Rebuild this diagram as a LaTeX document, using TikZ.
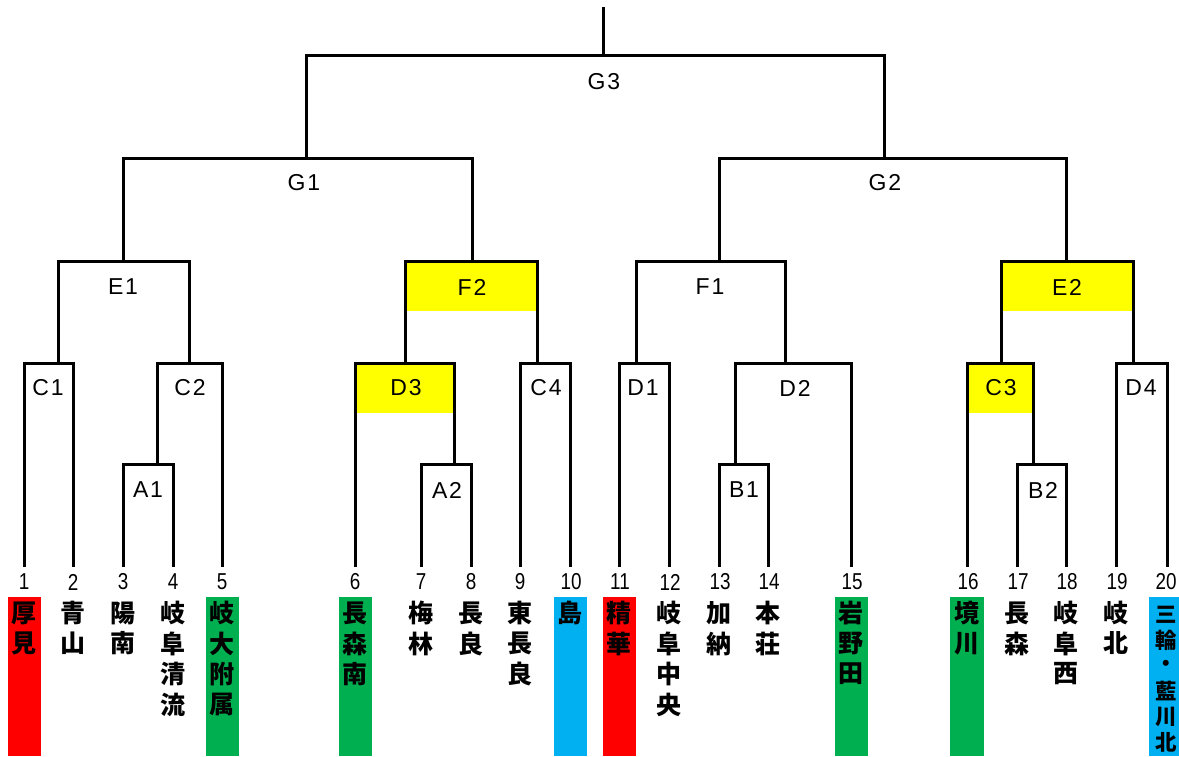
\documentclass[tikz,border=0pt]{standalone}
\usepackage{fontspec}
\newfontfamily\jpfont{Noto Sans CJK JP}
\newfontfamily\labfont{Liberation Sans}[LetterSpace=8]
\newfontfamily\numfont{Liberation Sans}[FakeStretch=0.82]
\definecolor{barred}{HTML}{FF0000}
\definecolor{bargreen}{HTML}{00B050}
\definecolor{barblue}{HTML}{00B0F0}
\definecolor{hiyellow}{HTML}{FFFF00}
\tikzset{
  br/.style={line width=3pt, line join=miter, draw=black},
  lab/.style={inner sep=0pt, font=\labfont\fontsize{23}{23}\selectfont},
  num/.style={inner sep=0pt, font=\numfont\fontsize{23}{23}\selectfont},
  nm/.style={inner sep=0pt, font=\jpfont\bfseries\fontsize{25}{25}\selectfont},
  nmsmall/.style={inner sep=0pt, font=\jpfont\bfseries\fontsize{21.5}{21.5}\selectfont},
}
\newcommand\tname[3]{%
  \foreach \ch [count=\k] in {#3} {
    \node[nm] (n#1-\k) at (#2, {613+30.5*(\k-1)}) {\ch};
  }}
\begin{document}
\begin{tikzpicture}[x=1pt,y=-1pt]
\useasboundingbox (0,0) rectangle (1179,756);
\fill[white] (0,0) rectangle (1179,756);
% highlight fills
\fill[hiyellow] (405,261) rectangle (537,311);
\fill[hiyellow] (1001,261) rectangle (1133,311);
\fill[hiyellow] (355,363) rectangle (454,413);
\fill[hiyellow] (967,363) rectangle (1033,413);
% team bars
\fill[barred]   (7.5,597)   rectangle (40.5,756);
\fill[bargreen] (205.5,597) rectangle (238.5,756);
\fill[bargreen] (338.5,597) rectangle (371.5,756);
\fill[barblue]  (553.5,597) rectangle (586.5,756);
\fill[barred]   (602.5,597) rectangle (635.5,756);
\fill[bargreen] (834.5,597) rectangle (867.5,756);
\fill[bargreen] (950,597)   rectangle (984,756);
\fill[barblue]  (1149,597)  rectangle (1179,756);
% team tops
\foreach \i/\x in {1/24,2/73,3/123,4/173,5/222,6/355,7/421,8/471,9/520,10/570,
                   11/619,12/669,13/719,14/768,15/851,16/967,17/1017,18/1066,19/1116,20/1167}
  \coordinate (t\i) at (\x,567);
% match points (riser x, bracket y)
\coordinate (A1) at (157,464);
\coordinate (A2) at (454,464);
\coordinate (B1) at (735,464);
\coordinate (B2) at (1033,464);
\coordinate (C1) at (58,363);
\coordinate (C2) at (189,363);
\coordinate (D3) at (405,363);
\coordinate (C4) at (537,363);
\coordinate (D1) at (636,363);
\coordinate (D2) at (785,363);
\coordinate (C3) at (1001,363);
\coordinate (D4) at (1133,363);
\coordinate (E1) at (123,261);
\coordinate (F2) at (472,261);
\coordinate (F1) at (719,261);
\coordinate (E2) at (1066,261);
\coordinate (G1) at (306,158);
\coordinate (G2) at (884,158);
\coordinate (G3) at (603,55);
\coordinate (top) at (603,7);
% brackets
\draw[br] (t3) |- (A1) -| (t4);
\draw[br] (t7) |- (A2) -| (t8);
\draw[br] (t13) |- (B1) -| (t14);
\draw[br] (t17) |- (B2) -| (t18);
\draw[br] (t1) |- (C1) -| (t2);
\draw[br] (A1) |- (C2) -| (t5);
\draw[br] (t6) |- (D3) -| (A2);
\draw[br] (t9) |- (C4) -| (t10);
\draw[br] (t11) |- (D1) -| (t12);
\draw[br] (B1) |- (D2) -| (t15);
\draw[br] (t16) |- (C3) -| (B2);
\draw[br] (t19) |- (D4) -| (t20);
\draw[br] (C1) |- (E1) -| (C2);
\draw[br] (D3) |- (F2) -| (C4);
\draw[br] (D1) |- (F1) -| (D2);
\draw[br] (C3) |- (E2) -| (D4);
\draw[br] (E1) |- (G1) -| (F2);
\draw[br] (F1) |- (G2) -| (E2);
\draw[br] (G1) |- (G3) -| (G2);
\draw[br] (G3) -- (top);
% match labels
\node[lab] (lG3) at (604,82) {G3};
\node[lab] (lG1) at (304,183) {G1};
\node[lab] (lG2) at (885,183) {G2};
\node[lab] (lE1) at (123,287) {E1};
\node[lab] (lF2) at (472,287) {F2};
\node[lab] (lF1) at (710,287) {F1};
\node[lab] (lE2) at (1067,287) {E2};
\node[lab] (lC1) at (48,388) {C1};
\node[lab] (lC2) at (190,388) {C2};
\node[lab] (lD3) at (406,388) {D3};
\node[lab] (lC4) at (546,388) {C4};
\node[lab] (lD1) at (643,388) {D1};
\node[lab] (lD2) at (795,388) {D2};
\node[lab] (lC3) at (1001,388) {C3};
\node[lab] (lD4) at (1141,388) {D4};
\node[lab] (lA1) at (148,490) {A1};
\node[lab] (lA2) at (447,490) {A2};
\node[lab] (lB1) at (744,490) {B1};
\node[lab] (lB2) at (1043,490) {B2};
% team numbers
\foreach \i/\x in {1/24,2/73,3/123,4/173,5/222,6/355,7/421,8/471,9/520,10/571,
                   11/620,12/670,13/720,14/769,15/852,16/968,17/1018,18/1067,19/1117,20/1166}
  \node[num] (k\i) at (\x,582) {\i};
% team names
\tname{1}{24}{厚,見}
\tname{2}{73}{青,山}
\tname{3}{123}{陽,南}
\tname{4}{173}{岐,阜,清,流}
\tname{5}{222}{岐,大,附,属}
\tname{6}{355}{長,森,南}
\tname{7}{421}{梅,林}
\tname{8}{471}{長,良}
\tname{9}{520}{東,長,良}
\tname{10}{570}{島}
\tname{11}{619}{精,華}
\tname{12}{669}{岐,阜,中,央}
\tname{13}{719}{加,納}
\tname{14}{768}{本,荘}
\tname{15}{851}{岩,野,田}
\tname{16}{967}{境,川}
\tname{17}{1017}{長,森}
\tname{18}{1066}{岐,阜,西}
\tname{19}{1116}{岐,北}
\foreach \ch [count=\k] in {三,輪,・,藍,川,北}
  \node[nmsmall] (n20-\k) at (1166, {615+25.4*(\k-1)}) {\ch};
\end{tikzpicture}
\end{document}
